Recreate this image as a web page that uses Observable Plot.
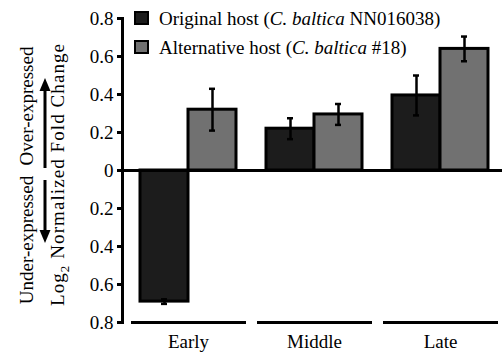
<!DOCTYPE html>
<html>
<head>
<meta charset="utf-8">
<script src="https://cdn.jsdelivr.net/npm/d3@7"></script>
<script src="https://cdn.jsdelivr.net/npm/@observablehq/plot@0.6"></script>
<style>
  html, body { margin: 0; padding: 0; background: #fff; }
  #wrap { position: relative; width: 502px; height: 353px; font-family: "Liberation Serif", "Times New Roman", Times, serif; }
  #legend { position: absolute; left: 134px; top: 4px; font-size: 19px; line-height: 29px; color: #000; white-space: nowrap; }
  #legend .sw { display: inline-block; width: 11px; height: 10px; border: 2px solid #000; margin-right: 10px; }
  #ylab { position: absolute; left: 0; top: 0; pointer-events: none; }
  svg text { font-family: "Liberation Serif", "Times New Roman", Times, serif; }
</style>
</head>
<body>
<div id="wrap"></div>
<script>
// ---- data ----
const stages = ["Early", "Middle", "Late"];
const seriesNames = ["Original host", "Alternative host"];
const originalValues = [-0.69, 0.22, 0.395];
const originalErrors = [0.012, 0.055, 0.105];
const alternativeValues = [0.32, 0.295, 0.64];
const alternativeErrors = [0.11, 0.055, 0.065];
const yTicks = [-0.8, -0.6, -0.4, -0.2, 0, 0.2, 0.4, 0.6, 0.8];
const yTickLabels = ["0.8", "0.6", "0.4", "0.2", "0", "0.2", "0.4", "0.6", "0.8"];

// ---- styles ----
const colorOriginal = "#1c1c1c";
const colorAlternative = "#717171";
const serif = "'Liberation Serif', 'Times New Roman', Times, serif";

const orig = stages.map((s, i) => ({stage: s, series: seriesNames[0], value: originalValues[i], err: originalErrors[i]}));
const alt = stages.map((s, i) => ({stage: s, series: seriesNames[1], value: alternativeValues[i], err: alternativeErrors[i]}));

const half = 48;
const capOrig = {insetLeft: 21, insetRight: 69};
const capAlt = {insetLeft: 69, insetRight: 21};

const chart = Plot.plot({
  width: 502,
  height: 353,
  marginTop: 18,
  marginBottom: 31,
  marginLeft: 122,
  marginRight: 0,
  style: {fontFamily: serif, fontSize: "19px", color: "#000", background: "#fff"},
  x: {domain: stages, paddingInner: 0.241, paddingOuter: 0.1186, align: 0.567},
  y: {domain: [-0.8, 0.8]},
  marks: [
    Plot.barY(orig, {x: "stage", y1: 0, y2: "value", fill: colorOriginal, stroke: "#000", strokeWidth: 3, insetRight: half}),
    Plot.barY(alt, {x: "stage", y1: 0, y2: "value", fill: colorAlternative, stroke: "#000", strokeWidth: 3, insetLeft: half}),
    Plot.ruleX(orig, {x: "stage", y1: d => d.value - d.err, y2: d => d.value + d.err, dx: -24, strokeWidth: 2.5}),
    Plot.ruleX(alt, {x: "stage", y1: d => d.value - d.err, y2: d => d.value + d.err, dx: 24, strokeWidth: 2.5}),
    Plot.tickY(orig, {x: "stage", y: d => d.value + d.err, strokeWidth: 2.5, ...capOrig}),
    Plot.tickY(orig, {x: "stage", y: d => d.value - d.err, strokeWidth: 2.5, ...capOrig}),
    Plot.tickY(alt, {x: "stage", y: d => d.value + d.err, strokeWidth: 2.5, ...capAlt}),
    Plot.tickY(alt, {x: "stage", y: d => d.value - d.err, strokeWidth: 2.5, ...capAlt}),
    Plot.ruleY([0], {strokeWidth: 3}),
    Plot.tickY(stages, {x: d => d, y: () => yTicks[0], strokeWidth: 3, insetLeft: -9, insetRight: -10}),
    Plot.frame({anchor: "left", strokeWidth: 3}),
    Plot.axisY(yTicks, {tickFormat: d => yTickLabels[yTicks.indexOf(d)], tickSize: 5, tickPadding: 4, fontSize: 19, strokeWidth: 3, label: null}),
    Plot.axisX({tickSize: 0, tickPadding: 12, fontSize: 19, label: null})
  ]
});

const wrap = document.getElementById("wrap");
wrap.appendChild(chart);

// legend
const legend = document.createElement("div");
legend.id = "legend";
legend.innerHTML =
  `<div><span class="sw" style="background:${colorOriginal}"></span>${seriesNames[0]} (<i>C. baltica</i> NN016038)</div>` +
  `<div><span class="sw" style="background:${colorAlternative}"></span>${seriesNames[1]} (<i>C. baltica</i> #18)</div>`;
wrap.appendChild(legend);

// y-axis title with arrows
const svg = d3.select(wrap).append("svg").attr("id", "ylab").attr("width", 502).attr("height", 353)
  .style("font-size", "19px");
svg.append("text").attr("transform", "translate(33,240) rotate(-90)").attr("text-anchor", "middle").text("Under-expressed");
svg.append("text").attr("transform", "translate(33,106) rotate(-90)").attr("text-anchor", "middle").text("Over-expressed");
const t2 = svg.append("text").attr("transform", "translate(64,175) rotate(-90)").attr("text-anchor", "middle")
  .attr("textLength", 262).attr("lengthAdjust", "spacing");
t2.append("tspan").text("Log");
t2.append("tspan").attr("dy", 5).attr("font-size", 13).text("2");
t2.append("tspan").attr("dy", -5).text(" Normalized Fold Change");
// arrows
svg.append("line").attr("x1", 45).attr("x2", 45).attr("y1", 168).attr("y2", 88).attr("stroke", "#000").attr("stroke-width", 3);
svg.append("path").attr("d", "M45,78 L39.5,91 L50.5,91 Z").attr("fill", "#000");
svg.append("line").attr("x1", 45).attr("x2", 45).attr("y1", 180).attr("y2", 233).attr("stroke", "#000").attr("stroke-width", 3);
svg.append("path").attr("d", "M45,243 L39.5,230 L50.5,230 Z").attr("fill", "#000");
</script>
</body>
</html>
